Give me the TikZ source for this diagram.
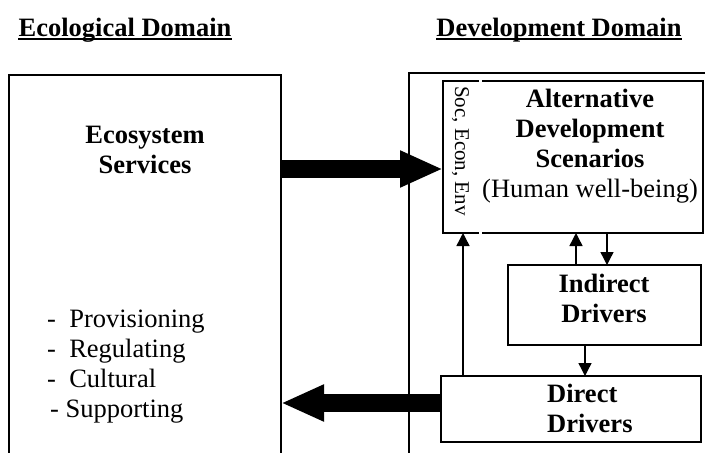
\documentclass[tikz,border=0pt]{standalone}
\usepackage{fontspec}
\setmainfont{Liberation Serif}
\usetikzlibrary{arrows.meta}
\begin{document}
\begin{tikzpicture}[x=1pt,y=-1pt,
  box/.style={draw, line width=1.8pt, inner sep=0pt, outer sep=0pt, anchor=north west},
  big/.style={font=\fontsize{26.5}{30}\selectfont\bfseries, align=center, inner sep=0pt},
  reg/.style={font=\fontsize{26.5}{30}\selectfont, inner sep=0pt},
  fat/.style={line width=18pt, line cap=butt, -{Triangle[length=43pt,width=34pt]}},
  thin/.style={line width=1.4pt, -{Triangle[length=13pt,width=13pt]}},
]
\clip (0,0) rectangle (705,453);
% boxes
\node[box, minimum width=272pt, minimum height=420pt] (eco) at (9,75) {};
\node[box, minimum width=320pt, minimum height=420pt] (dev) at (409,73) {};
\node[box, line width=2.6pt, minimum width=260pt, minimum height=152pt] (alt) at (443,81) {};
\node[box, minimum width=193pt, minimum height=80pt] (ind) at (508,265) {};
\node[box, minimum width=260pt, minimum height=66pt] (dir) at (441,376) {};
% gaps in the scenario box border
\fill[white] (478.5,77) rectangle (481.5,85);
\fill[white] (478.5,229) rectangle (481.5,237);
% headings
\node[big, anchor=base] (h1) at (125,36) {Ecological Domain};
\node[big, anchor=base] (h2) at (559,36) {Development Domain};
\draw[line width=2.6pt] ([yshift=-3pt]h1.base west) -- ([yshift=-3pt]h1.base east);
\draw[line width=2.6pt] ([yshift=-3pt]h2.base west) -- ([yshift=-3pt]h2.base east);
% texts
\node[big, anchor=base] (t1) at (145,173) {Ecosystem\\Services};
\node[reg, anchor=base west] (l1) at (47,327) {-\ \ Provisioning};
\node[reg, anchor=base west] (l2) at (47,357) {-\ \ Regulating};
\node[reg, anchor=base west] (l3) at (47,387) {-\ \ Cultural};
\node[reg, anchor=base west] (l4) at (50,417) {-\ Supporting};
\node[font=\fontsize{21}{24}\selectfont, inner sep=0pt, rotate=-90, anchor=base] (sec) at (455,151) {Soc, Econ, Env};
\node[big, anchor=base] (t2) at (590,197) {Alternative\\Development\\Scenarios\\\mdseries(Human well-being)};
\node[big, anchor=base] (t3) at (604,322) {Indirect\\Drivers};
\node[big, anchor=base west, align=left] (t4) at (547,432) {Direct\\Drivers};
% connectors
\draw[fat] (eco.east |- 0,169) -- (alt.west |- 0,169);
\draw[fat] (dir.west |- 0,403) -- (eco.east |- 0,403);
\draw[thin] (dir.north -| 463,0) -- (alt.south -| 463,0);
\draw[thin] (ind.north -| 576,0) -- (alt.south -| 576,0);
\draw[thin] (alt.south -| 607,0) -- (ind.north -| 607,0);
\draw[thin] (ind.south -| 585,0) -- (dir.north -| 585,0);
\end{tikzpicture}
\end{document}
